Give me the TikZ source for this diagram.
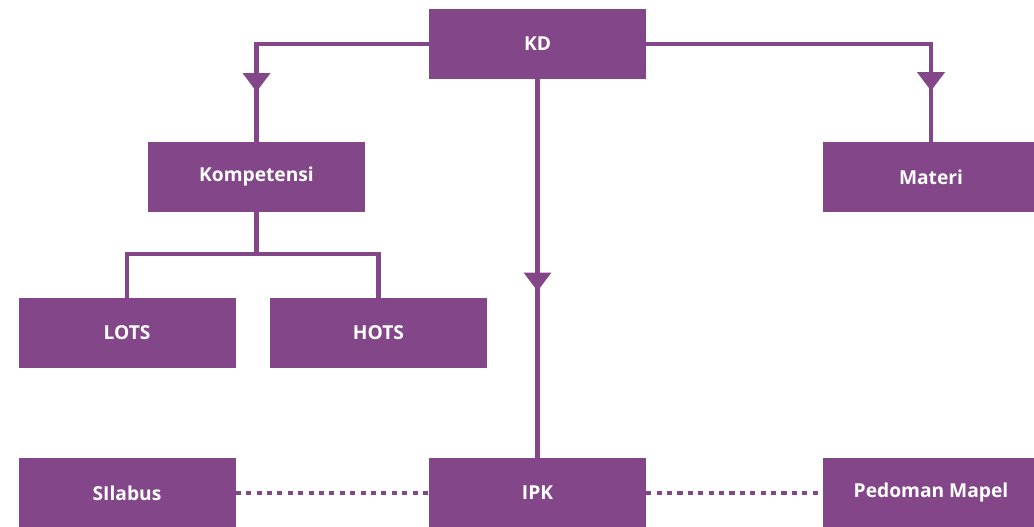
\documentclass[tikz,border=0pt]{standalone}
\usepackage{fontspec}
\setmainfont{Open Sans}
\usetikzlibrary{arrows.meta,positioning,decorations.markings}
\definecolor{kd_purple}{RGB}{131,70,137}
\tikzset{
box/.style={rectangle, fill=kd_purple, text=white, font=\fontsize{14.4}{16}\selectfont\bfseries, minimum width=162.75pt, minimum height=52.5pt, inner sep=0pt},
link/.style={draw=kd_purple, line width=3.6pt},
dot_link/.style={draw=kd_purple, line width=3.2pt, dash pattern=on 3.8pt off 4pt},
mid_arrow/.style={postaction={decorate, decoration={markings, mark=at position #1 with {\arrow{Triangle[width=20pt,length=14pt]}}}}}
}

\begin{document}
\begin{tikzpicture}[x=0.75pt, y=-0.75pt, color=kd_purple]
    \useasboundingbox (0,0) rectangle (1034,527);
    \node[box] (kd) at (537.5,44) {KD};
    \node[box] (kompetensi) at (256.5,177) {Kompetensi};
    \node[box] (materi) at (931,177) {Materi};
    \node[box] (lots) at (127,333) {LOTS};
    \node[box] (hots) at (378.5,333) {HOTS};
    \node[box] (silabus) at (127,493) {SIlabus};
    \node[box] (ipk) at (537.5,493) {IPK};
    \node[box] (pedoman) at (931,493) {Pedoman Mapel};

    \draw[link, mid_arrow=0.815] (kd.west) -| (kompetensi.north);
    \draw[link, mid_arrow=0.867] (kd.east) -| (materi.north);
    \draw[link, mid_arrow=0.56] (kd.south) -- (ipk.north);
    \coordinate (split) at (kompetensi.south |- 0,254);
    \draw[link] (kompetensi.south) -- (split) -| (lots.north);
    \draw[link] (split) -| (hots.north);
    \draw[dot_link] (silabus.east) -- (ipk.west);
    \draw[dot_link] (ipk.east) -- (pedoman.west);
\end{tikzpicture}
\end{document}
